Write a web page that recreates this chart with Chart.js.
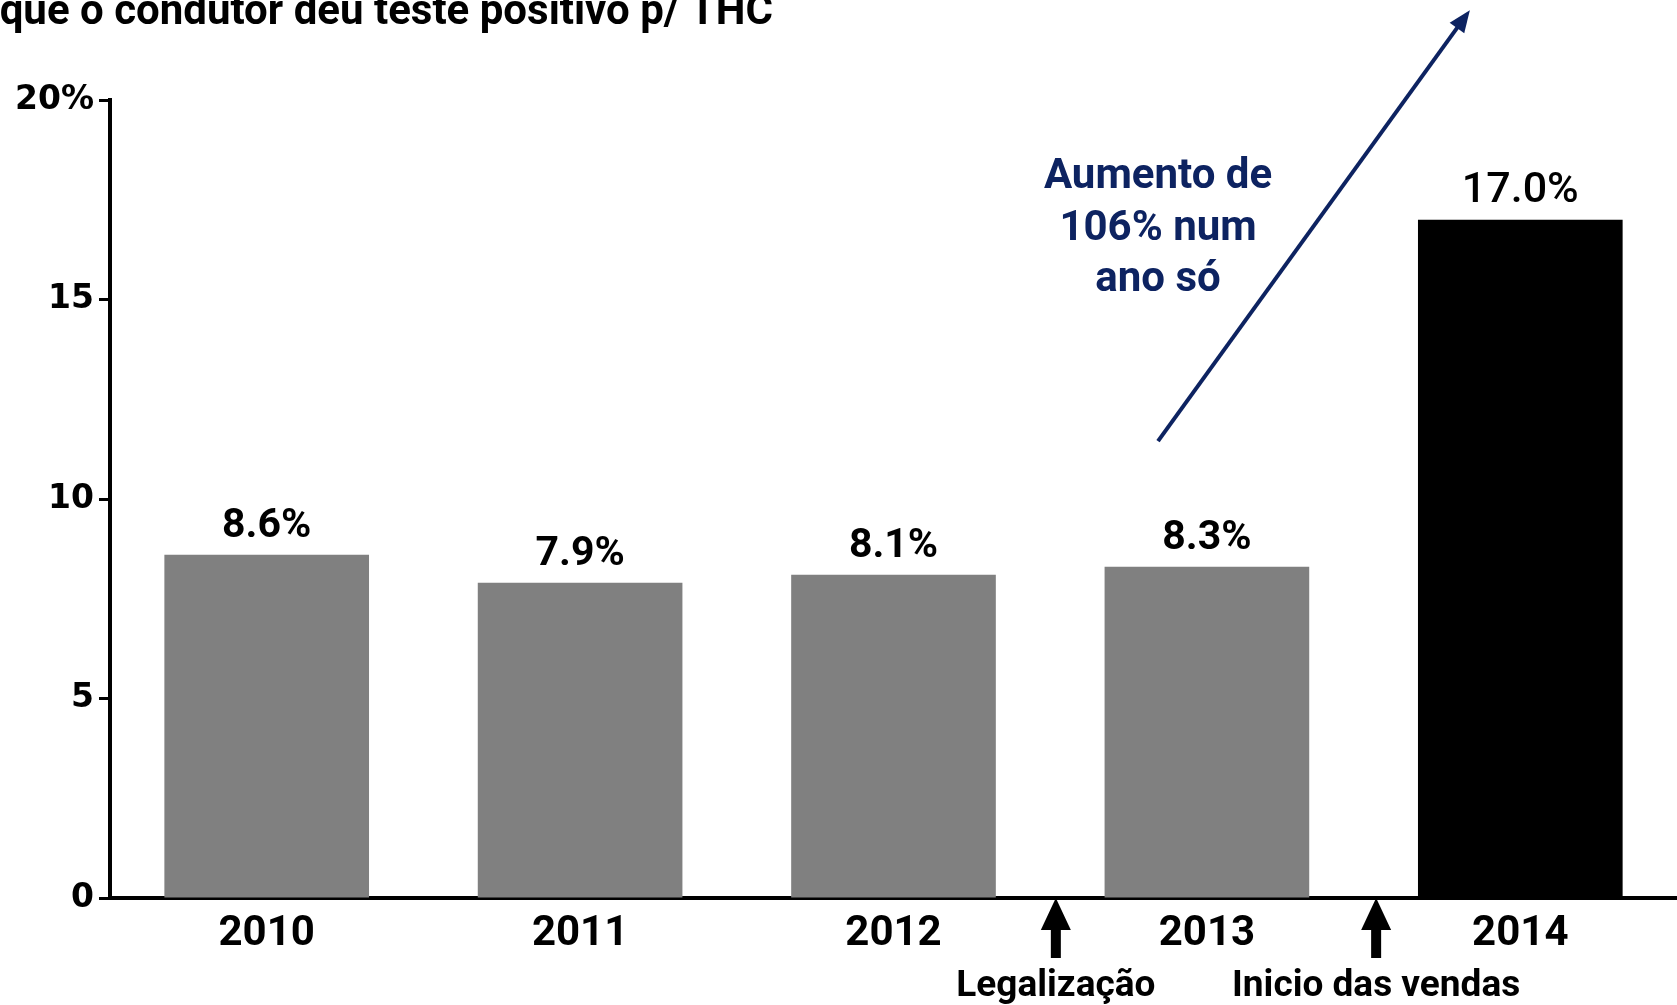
<!DOCTYPE html>
<html>
<head>
<meta charset="utf-8">
<script src="https://cdn.jsdelivr.net/npm/chart.js@4"></script>
<style>
  html, body { margin: 0; padding: 0; background: #fff; }
  #wrap { width: 1677px; height: 1005px; position: relative; }
</style>
</head>
<body>
<div id="wrap"><canvas id="thcChart"></canvas></div>
<script>
const years = ['2010', '2011', '2012', '2013', '2014'];
const thcShare = [8.6, 7.9, 8.1, 8.3, 17.0];
const barColors = ['#808080', '#808080', '#808080', '#808080', '#000000'];
const yTickValues = [0, 5, 10, 15, 20];
const titleText = 'que o condutor deu teste positivo p/ THC';
const trendNote = ['Aumento de', '106% num', 'ano só'];
const trendFrom = [2.844, 11.45];   // [category index, %]
const trendTo = [3.839, 22.25];
const noteAt = [2.844, 18.05];
const events = ['Legalização', 'Inicio das vendas'];
const eventAt = [2.518, 3.54];

const NAVY = '#0d2361';

const overlay = {
  id: 'overlay',
  afterDatasetsDraw(chart) {
    const { ctx } = chart;
    const meta = chart.getDatasetMeta(0);

    // value labels above the bars
    ctx.save();
    ctx.fillStyle = '#000';
    ctx.textAlign = 'center';
    ctx.textBaseline = 'alphabetic';
    meta.data.forEach((bar, i) => {
      const last = i === thcShare.length - 1;
      ctx.font = (last ? '500 43px' : 'bold 41px') + ' Roboto';
      ctx.fillText(thcShare[i].toFixed(1) + '%', bar.x, bar.y - 18);
    });
    ctx.restore();
  },
  afterDraw(chart) {
    const { ctx, scales: { x, y } } = chart;

    // title (cut at the top/left edge, like the source)
    ctx.save();
    ctx.font = 'bold 42px Roboto';
    ctx.fillStyle = '#000';
    ctx.textAlign = 'right';
    ctx.textBaseline = 'alphabetic';
    ctx.fillText(titleText, 773, 24);
    ctx.restore();

    // trend arrow
    const x0 = x.getPixelForValue(trendFrom[0]);
    const y0 = y.getPixelForValue(trendFrom[1]);
    const x1 = x.getPixelForValue(trendTo[0]);
    const y1 = y.getPixelForValue(trendTo[1]);
    const ang = Math.atan2(y1 - y0, x1 - x0);
    ctx.save();
    ctx.strokeStyle = NAVY;
    ctx.fillStyle = NAVY;
    ctx.lineWidth = 4;
    ctx.beginPath();
    ctx.moveTo(x0, y0);
    ctx.lineTo(x1 - Math.cos(ang) * 14, y1 - Math.sin(ang) * 14);
    ctx.stroke();
    ctx.beginPath();
    ctx.moveTo(x1, y1);
    ctx.lineTo(x1 - Math.cos(ang) * 22 + Math.sin(ang) * 9, y1 - Math.sin(ang) * 22 - Math.cos(ang) * 9);
    ctx.lineTo(x1 - Math.cos(ang) * 22 - Math.sin(ang) * 9, y1 - Math.sin(ang) * 22 + Math.cos(ang) * 9);
    ctx.closePath();
    ctx.fill();

    // note text
    ctx.font = 'bold 42px Roboto';
    ctx.textAlign = 'center';
    ctx.textBaseline = 'middle';
    const nx = x.getPixelForValue(noteAt[0]);
    const ny = y.getPixelForValue(noteAt[1]);
    trendNote.forEach((line, i) => ctx.fillText(line, nx, ny + i * 51.5));
    ctx.restore();

    // event markers below the axis
    const base = y.getPixelForValue(0);
    ctx.save();
    ctx.fillStyle = '#000';
    ctx.font = 'bold 37px Roboto';
    ctx.textAlign = 'center';
    ctx.textBaseline = 'middle';
    eventAt.forEach((pos, i) => {
      const ex = x.getPixelForValue(pos);
      ctx.beginPath();
      ctx.moveTo(ex, base);
      ctx.lineTo(ex + 15, base + 32);
      ctx.lineTo(ex - 15, base + 32);
      ctx.closePath();
      ctx.fill();
      ctx.fillRect(ex - 5, base + 30, 10, 30);
      ctx.fillText(events[i], ex, base + 89);
    });
    ctx.restore();
  }
};

new Chart(document.getElementById('thcChart'), {
  type: 'bar',
  data: {
    labels: years,
    datasets: [{
      data: thcShare,
      backgroundColor: barColors,
      borderWidth: 0,
      categoryPercentage: 1,
      barPercentage: 0.653
    }]
  },
  options: {
    responsive: true,
    maintainAspectRatio: false,
    animation: false,
    devicePixelRatio: 1,
    layout: { padding: { top: 100, right: 0, left: 0, bottom: 0 } },
    plugins: {
      legend: { display: false },
      tooltip: { enabled: false }
    },
    scales: {
      x: {
        grid: { display: false },
        border: { display: true, color: '#000', width: 4 },
        ticks: {
          color: '#000',
          font: { family: 'Roboto', weight: 'bold', size: 42 },
          padding: 3,
          maxRotation: 0
        },
        afterFit: (scale) => { scale.height = 107; }
      },
      y: {
        min: 0,
        max: 20,
        afterBuildTicks: (scale) => { scale.ticks = yTickValues.map(v => ({ value: v })); },
        grid: {
          drawOnChartArea: false,
          drawTicks: true,
          tickLength: 11,
          tickWidth: 3,
          tickColor: '#000'
        },
        border: { display: true, color: '#000', width: 4 },
        ticks: {
          color: '#000',
          font: { family: 'DejaVu Sans', weight: 'bold', size: 33 },
          padding: 5,
          callback: (v) => v === 20 ? '20%' : v
        },
        afterFit: (scale) => { scale.width = 110; }
      }
    }
  },
  plugins: [overlay]
});
</script>
</body>
</html>
